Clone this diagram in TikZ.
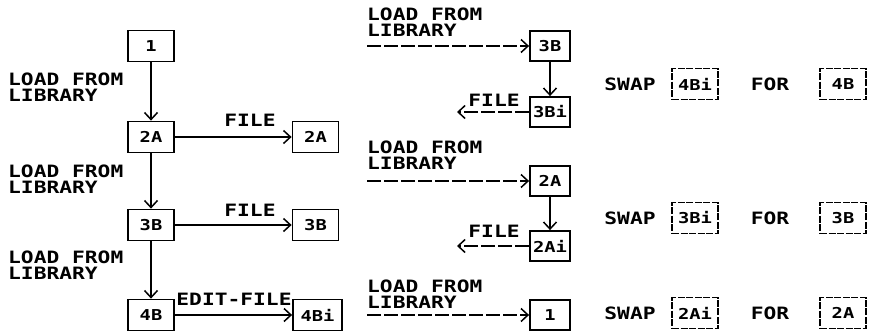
\documentclass[tikz,border=0pt]{standalone}
\usepackage{fontspec}
\newfontfamily\plotfont{DejaVu Sans Mono}[FakeStretch=1.25]
\usetikzlibrary{arrows.meta}
\begin{document}
\begin{tikzpicture}[x=1pt,y=-1pt,
  lbl/.style={font=\plotfont\bfseries\fontsize{17}{15.5}\selectfont, inner sep=0pt, align=left},
  box/.style={draw, line width=1.8pt, minimum width=46pt, minimum height=31pt, inner sep=0pt,
    font=\plotfont\bfseries\fontsize{15}{14}\selectfont},
  rbox/.style={box, minimum width=40pt, minimum height=30pt},
  sbox/.style={box, line width=1.2pt, dash pattern=on 7pt off 1.5pt},
  arr/.style={line width=1.5pt, -{Straight Barb[length=7pt,width=13pt]}},
  darr/.style={arr, dash pattern=on 14pt off 3pt}]
\useasboundingbox (0,0) rectangle (873,332);

% left column
\node[box] (b1) at (151,46) {1};
\node[box] (b2a) at (151,137) {2A};
\node[box] (b3b) at (151,225) {3B};
\node[box] (b4b) at (151,315) {4B};
\node[box] (f2a) at (315.5,137) {2A};
\node[box] (f3b) at (315.5,225) {3B};
\node[box, minimum width=49pt] (f4bi) at (317.5,315) {4Bi};

\node[lbl, anchor=north west] (l1) at (8,73) {LOAD FROM\\LIBRARY};
\node[lbl, anchor=north west] (l2) at (8,165) {LOAD FROM\\LIBRARY};
\node[lbl, anchor=north west] (l3) at (8,251) {LOAD FROM\\LIBRARY};
\node[lbl] (fl1) at (250,120) {FILE};
\node[lbl] (fl2) at (250,210) {FILE};
\node[lbl] (ef) at (234,299) {EDIT-FILE};

\draw[arr] (b1) -- (b2a);
\draw[arr] (b2a) -- (b3b);
\draw[arr] (b3b) -- (b4b);
\draw[arr] (b2a) -- (f2a);
\draw[arr] (b3b) -- (f3b);
\draw[arr] (b4b) -- (f4bi);

% middle column
\node[lbl, anchor=north west] (m1) at (367,8) {LOAD FROM\\LIBRARY};
\node[lbl, anchor=north west] (m2) at (367,141) {LOAD FROM\\LIBRARY};
\node[lbl, anchor=north west] (m3) at (367,280) {LOAD FROM\\LIBRARY};
\node[rbox] (r3b) at (550,46) {3B};
\node[rbox] (r3bi) at (550,112) {3Bi};
\node[rbox] (r2a) at (550,181) {2A};
\node[rbox] (r2ai) at (550,246) {2Ai};
\node[rbox] (r1) at (550,315) {1};
\node[lbl] (mf1) at (494,100) {FILE};
\node[lbl] (mf2) at (494,231) {FILE};
\coordinate (s1) at (367,46);
\coordinate (s2) at (367,181);
\coordinate (s3) at (367,315);
\coordinate (e1) at (457,112);
\coordinate (e2) at (457,246);

\draw[darr] (s1) -- (r3b);
\draw[arr] (r3b) -- (r3bi);
\draw[darr] (r3bi) -- (e1);
\draw[darr] (s2) -- (r2a);
\draw[arr] (r2a) -- (r2ai);
\draw[darr] (r2ai) -- (e2);
\draw[darr] (s3) -- (r1);

% swap column
\node[lbl] (sw1) at (630,84) {SWAP};
\node[sbox] (x1) at (695,84) {4Bi};
\node[lbl] (fo1) at (770,84) {FOR};
\node[sbox] (y1) at (843,84) {4B};
\node[lbl] (sw2) at (630,218) {SWAP};
\node[sbox] (x2) at (695,218) {3Bi};
\node[lbl] (fo2) at (770,218) {FOR};
\node[sbox] (y2) at (843,218) {3B};
\node[lbl] (sw3) at (630,313) {SWAP};
\node[sbox] (x3) at (695,313) {2Ai};
\node[lbl] (fo3) at (770,313) {FOR};
\node[sbox] (y3) at (843,313) {2A};
\end{tikzpicture}
\end{document}
